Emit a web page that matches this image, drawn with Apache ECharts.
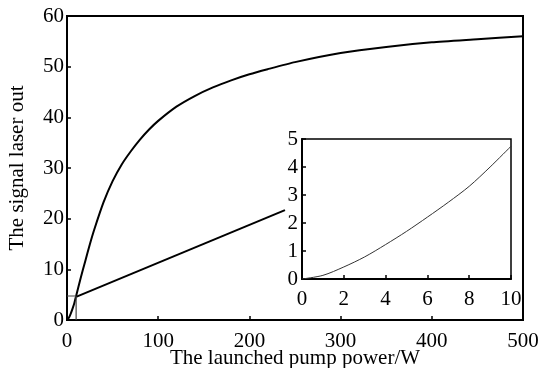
<!DOCTYPE html>
<html>
<head>
<meta charset="utf-8">
<script src="https://cdn.jsdelivr.net/npm/echarts@6/dist/echarts.min.js"></script>
<style>
	html, body { margin: 0; padding: 0; background: #fff; }
	#main { width: 539px; height: 368px; }
</style>
</head>
<body>
<div id="main"></div>
<script>
// main curve: launched pump power (W) vs signal laser out
const pumpPower = [0, 2, 4, 6, 8, 10, 15, 20, 25, 30, 40, 50, 60, 70, 80, 90, 100, 120, 140, 160, 180, 200, 220, 250, 300, 350, 400, 450, 500]
const signalOut = [0, 0.43, 1.23, 2.21, 3.31, 4.74, 8.3, 11.6, 14.9, 17.9, 23.2, 27.4, 30.7, 33.3, 35.6, 37.6, 39.3, 42.1, 44.2, 45.9, 47.3, 48.5, 49.5, 50.9, 52.7, 53.9, 54.8, 55.4, 56.0]

// zoomed part 0..10 W
const insetPower = [0, 1, 2, 3, 4, 5, 6, 7, 8, 9, 10]
const insetSignal = [0, 0.13, 0.43, 0.79, 1.23, 1.70, 2.21, 2.74, 3.31, 4.0, 4.74]

// box round the zoomed region and the arrow to the inset
const boxPower = [0, 10, 10]
const boxSignal = [4.74, 4.74, 0]
const arrowFrom = [10.6, 4.6]
const arrowTo = [239, 21.7]

const mainXTicks = [0, 100, 200, 300, 400, 500]
const mainYTicks = [0, 10, 20, 30, 40, 50, 60]
const insetXTicks = [0, 2, 4, 6, 8, 10]
const insetYTicks = [0, 1, 2, 3, 4, 5]

const font = "Liberation Serif"

const pairs = (xs, ys) => xs.map((x, i) => [x, ys[i]])

const axisBase = (min, max, step, margin) => ({
	type: 'value',
	min: min,
	max: max,
	interval: step,
	axisLine: { show: true, onZero: false, lineStyle: { color: '#000', width: 2 } },
	axisTick: { show: true, inside: true, length: 4, lineStyle: { color: '#000', width: 1.5 } },
	splitLine: { show: false },
	axisLabel: { color: '#000', fontFamily: font, fontSize: 21, margin: margin }
})

var option = {
	backgroundColor: '#fff',
	animation: false,
	grid: [{
		left: 67, top: 16, right: 16, bottom: 48,
		show: true, borderColor: '#000', borderWidth: 2, backgroundColor: 'transparent',
		outerBoundsMode: 'none'
	}, {
		left: 302, top: 139, right: 28, bottom: 89,
		show: true, borderColor: '#000', borderWidth: 1.5, backgroundColor: '#fff',
		outerBoundsMode: 'none', z: 5
	}],
	xAxis: [
		Object.assign(axisBase(mainXTicks[0], mainXTicks[mainXTicks.length - 1], 100, 11), {
			gridIndex: 0,
			name: 'The launched pump power/W',
			nameLocation: 'middle',
			nameGap: 28,
			nameMoveOverlap: false,
			nameTextStyle: { color: '#000', fontFamily: font, fontSize: 21 }
		}),
		Object.assign(axisBase(insetXTicks[0], insetXTicks[insetXTicks.length - 1], 2, 10), {
			gridIndex: 1,
			z: 6
		})
	],
	yAxis: [
		Object.assign(axisBase(mainYTicks[0], mainYTicks[mainYTicks.length - 1], 10, 3), {
			gridIndex: 0,
			name: 'The signal laser out',
			nameLocation: 'middle',
			nameGap: 39,
			nameMoveOverlap: false,
			nameTextStyle: { color: '#000', fontFamily: font, fontSize: 21 }
		}),
		Object.assign(axisBase(insetYTicks[0], insetYTicks[insetYTicks.length - 1], 1, 4), {
			gridIndex: 1,
			z: 6
		})
	],
	series: [{
		type: 'line',
		xAxisIndex: 0, yAxisIndex: 0,
		data: pairs(pumpPower, signalOut),
		smooth: 0.2,
		showSymbol: false,
		lineStyle: { color: '#000', width: 2 },
		markLine: {
			silent: true,
			symbol: ['none', 'arrow'],
			symbolSize: [0, 11],
			label: { show: false },
			lineStyle: { color: '#000', width: 2, type: 'solid' },
			data: [[{ coord: arrowFrom }, { coord: arrowTo }]]
		}
	}, {
		type: 'line',
		xAxisIndex: 0, yAxisIndex: 0,
		data: pairs(boxPower, boxSignal),
		showSymbol: false,
		lineStyle: { color: '#444', width: 1.2 }
	}, {
		type: 'line',
		xAxisIndex: 1, yAxisIndex: 1,
		data: pairs(insetPower, insetSignal),
		smooth: 0.3,
		showSymbol: false,
		z: 7,
		lineStyle: { color: '#333', width: 1 }
	}]
}

var myChart = echarts.init(document.getElementById('main'), null, { renderer: 'canvas' })
myChart.setOption(option)
</script>
</body>
</html>
